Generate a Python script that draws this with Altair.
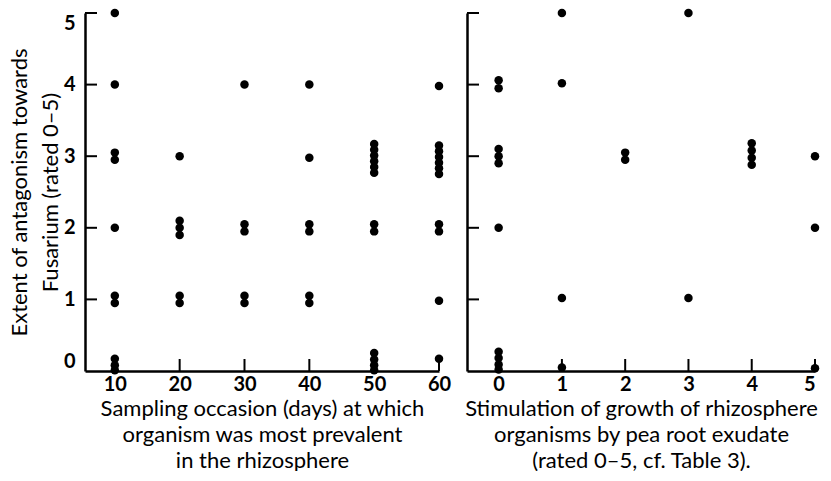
import altair as alt
import pandas as pd

# Left panel: sampling occasion (days) vs antagonism rating (stacked points shown slightly offset)
left_x = [10]*10 + [20]*6 + [30]*5 + [40]*6 + [50]*12 + [60]*11
left_y = [5, 4, 3.05, 2.95, 2, 1.05, 0.95, 0.17, 0.08, 0.01,
          3, 2.1, 2.0, 1.9, 1.05, 0.95,
          4, 2.05, 1.95, 1.05, 0.95,
          4, 2.98, 2.05, 1.95, 1.05, 0.95,
          3.17, 3.09, 3.01, 2.93, 2.85, 2.77, 2.05, 1.95, 0.25, 0.16, 0.08, 0.01,
          3.98, 3.15, 3.07, 2.99, 2.91, 2.83, 2.75, 2.05, 1.95, 0.98, 0.17]

# Right panel: stimulation by pea root exudate vs antagonism rating
right_x = [0]*10 + [1]*4 + [2]*2 + [3]*2 + [4]*4 + [5]*3
right_y = [4.06, 3.95, 3.1, 3.0, 2.9, 2.0, 0.27, 0.18, 0.09, 0.02,
           5.0, 4.02, 1.02, 0.05,
           3.05, 2.95,
           5.0, 1.02,
           3.18, 3.08, 2.98, 2.88,
           3.0, 2.0, 0.04]

left_ticks = [10, 20, 30, 40, 50, 60]
right_ticks = [0, 1, 2, 3, 4, 5]
y_ticks = [0, 1, 2, 3, 4, 5]
y_inner_ticks = [1, 2, 3, 4, 5]

left_title = ["Sampling occasion (days) at which", "organism was  most prevalent", "in the  rhizosphere"]
right_title = ["Stimulation of growth of rhizosphere", "organisms  by pea root exudate", "(rated 0\u20135, cf. Table 3)."]
y_title = ["Extent of antagonism towards", "Fusarium  (rated 0\u20135)"]

FONT = "Lato"
H = 358
TICK = 12


def panel(xs, ys, xdomain, xticks, xtitle, width, show_y, flush_x):
    df = pd.DataFrame({"x": xs, "y": ys})
    xscale = alt.Scale(domain=xdomain, nice=False, zero=False)
    yscale = alt.Scale(domain=[0, 5], nice=False)
    xaxis = alt.Axis(values=xticks, ticks=False, grid=False, title=xtitle,
                     labelPadding=3, titlePadding=4, titleLineHeight=26,
                     labelFontSize=20, titleFontSize=22, labelFont=FONT, titleFont=FONT,
                     labelColor="black", titleColor="black", labelFontWeight="bold",
                     titleFontWeight="normal", domainColor="black", domainWidth=2.5,
                     labelFlush=flush_x)
    if show_y:
        yaxis = alt.Axis(values=y_ticks, ticks=False, grid=False, title=y_title,
                         labelPadding=10, titlePadding=1, titleLineHeight=31,
                         labelFontSize=20, titleFontSize=22, labelFont=FONT, titleFont=FONT,
                         labelColor="black", titleColor="black", labelFontWeight="bold",
                         titleFontWeight="normal", domainColor="black", domainWidth=2.5,
                         labelFlush=True)
    else:
        yaxis = alt.Axis(values=y_ticks, ticks=False, grid=False, title=None,
                         labels=False, domainColor="black", domainWidth=2.5)
    pts = alt.Chart(df).mark_circle(size=72, color="black", opacity=1).encode(
        x=alt.X("x:Q", scale=xscale, axis=xaxis),
        y=alt.Y("y:Q", scale=yscale, axis=yaxis),
    )
    xt = alt.Chart(pd.DataFrame({"x": xticks})).mark_rule(color="black", strokeWidth=2).encode(
        x=alt.X("x:Q", scale=xscale, axis=xaxis),
        y=alt.value(H), y2=alt.value(H - TICK),
    )
    yt = alt.Chart(pd.DataFrame({"y": y_inner_ticks})).mark_rule(color="black", strokeWidth=2).encode(
        y=alt.Y("y:Q", scale=yscale, axis=yaxis),
        x=alt.value(0), x2=alt.value(TICK),
    )
    return alt.layer(pts, xt, yt).properties(width=width, height=H)


left = panel(left_x, left_y, [5.4, 60], left_ticks, left_title, 354, True, False)
right = panel(right_x, right_y, [-0.5, 5], right_ticks, right_title, 348, False, True)

chart = alt.hconcat(left, right, spacing=28, bounds="flush").properties(
    background="white",
    padding={"left": 0, "top": 0, "right": 0, "bottom": 0},
).configure_view(stroke=None)

chart.save("out.html", embed_options={"renderer": "svg", "actions": False})
